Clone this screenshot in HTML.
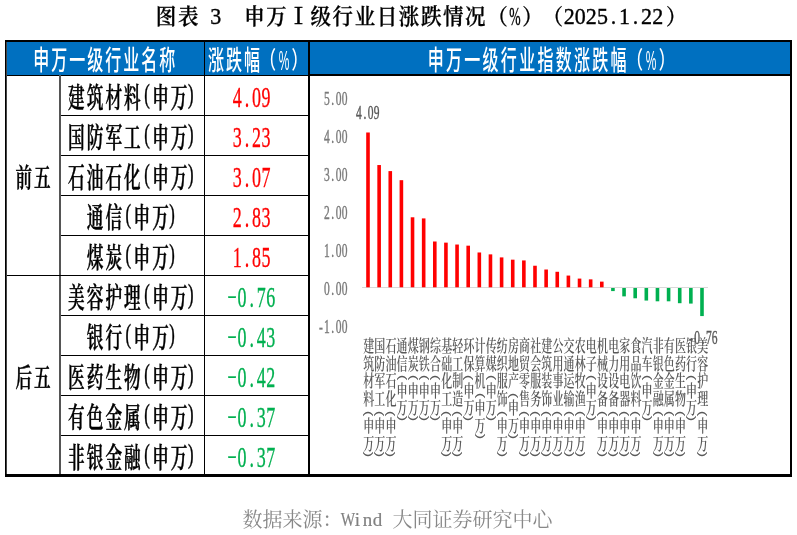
<!DOCTYPE html>
<html><head><meta charset="utf-8">
<style>
html,body{margin:0;padding:0;background:#fff;}
body{width:797px;height:535px;position:relative;overflow:hidden;}
i{font-style:normal;display:inline-block;text-align:center;white-space:nowrap;vertical-align:top;}
b{font-weight:normal;}
.abs{position:absolute;}
#title{position:absolute;top:1.5px;white-space:nowrap;height:30px;line-height:30px;
 font-family:"Liberation Serif","Noto Serif CJK SC",serif;font-weight:600;font-size:20.5px;color:#000;-webkit-text-stroke:0.25px #000;transform:scaleY(1.06);transform-origin:50% 50%;}
#title .h{position:relative;top:-0.3px;font-family:"Liberation Serif",serif;font-weight:400;font-size:22px;-webkit-text-stroke:0.35px #000;}
#title .pc{display:inline-block;transform:scaleX(0.8);}
#src{position:absolute;top:505px;white-space:nowrap;height:30px;line-height:30px;
 font-family:"Liberation Serif","Noto Serif CJK SC",serif;font-size:20px;color:#888;}
#src .h{font-family:"Liberation Serif",serif;font-size:19px;color:#808080;-webkit-text-stroke:0.2px #808080;}
.hdr{position:absolute;top:42px;height:32px;background:#0070c0;}
.ht{position:absolute;top:48px;height:32px;line-height:32px;color:#fff;white-space:nowrap;
 font-family:"Liberation Sans","Noto Sans CJK SC",sans-serif;font-weight:500;font-size:16px;transform:scaleY(1.69);transform-origin:50% 60%;}
.ht .h{font-family:"Liberation Sans",sans-serif;font-size:15px;}
.hl{position:absolute;height:1px;background:#000;}
.nm{position:absolute;height:40px;line-height:40px;white-space:nowrap;
 font-family:"Liberation Serif","Noto Serif CJK SC",serif;font-weight:600;font-size:16.6px;color:#000;transform:scaleY(1.68);-webkit-text-stroke:0.3px #000;transform-origin:50% 50%;}
.nm .h{font-family:"Liberation Serif",serif;font-weight:400;}
.vl{position:absolute;height:40px;line-height:40px;white-space:nowrap;
 font-family:"Liberation Serif",serif;font-size:18px;transform:scaleY(1.6);transform-origin:50% 56%;-webkit-text-stroke:0.2px currentColor;}
.side{position:absolute;left:7px;width:52px;text-align:center;white-space:nowrap;
 font-family:"Liberation Serif","Noto Serif CJK SC",serif;font-weight:600;font-size:16.6px;line-height:40px;height:40px;transform:scaleY(1.6);-webkit-text-stroke:0.3px #000;letter-spacing:2px;text-indent:2px;}
.ax{position:absolute;height:16px;line-height:16px;white-space:nowrap;
 font-family:"Liberation Serif",serif;font-size:11.5px;color:#7a7a7a;-webkit-text-stroke:0.25px #7a7a7a;transform:scaleY(1.6);transform-origin:100% 50%;}
.dl{position:absolute;height:16px;line-height:16px;white-space:nowrap;font-family:"Liberation Serif",serif;font-size:11.5px;color:#595959;-webkit-text-stroke:0.25px #595959;
 transform:scaleY(1.6);}
.c,.p{position:absolute;width:11px;height:11px;line-height:11px;font-size:11px;text-align:center;color:#595959;
 font-family:"Liberation Serif","Noto Serif CJK SC",serif;font-weight:600;transform-origin:50% 0;transform:scaleY(1.5);}
.p{font-family:"Liberation Sans",sans-serif;font-weight:400;font-size:11.5px;transform:scaleY(1.45) rotate(90deg);transform-origin:50% 50%;}
</style></head><body>
<div id="title" style="left:155px"><i class="f" style="width:22.1px">图</i><i class="f" style="width:22.1px">表</i><i class="h" style="width:11.05px">&nbsp;</i><i class="h" style="width:11.05px">3</i><i class="f" style="width:22.1px">&#12288;</i><i class="f" style="width:22.1px">申</i><i class="f" style="width:22.1px">万</i><i class="f" style="width:22.1px">Ⅰ</i><i class="f" style="width:22.1px">级</i><i class="f" style="width:22.1px">行</i><i class="f" style="width:22.1px">业</i><i class="f" style="width:22.1px">日</i><i class="f" style="width:22.1px">涨</i><i class="f" style="width:22.1px">跌</i><i class="f" style="width:22.1px">情</i><i class="f" style="width:22.1px">况</i><i class="f" style="width:22.1px">（</i><i class="h" style="width:11.05px;display:inline-flex;justify-content:center"><i style="transform:translateX(0.8px) scaleX(0.62) scaleY(1.05)">%</i></i><i class="f" style="width:22.1px;display:inline-flex;justify-content:center"><i style="position:relative;left:2px">）</i></i><i class="f" style="width:22.1px">（</i><i class="h" style="width:11.05px">2</i><i class="h" style="width:11.05px">0</i><i class="h" style="width:11.05px">2</i><i class="h" style="width:11.05px">5</i><i class="h" style="width:11.05px">.</i><i class="h" style="width:11.05px">1</i><i class="h" style="width:11.05px">.</i><i class="h" style="width:11.05px">2</i><i class="h" style="width:11.05px">2</i><i class="f" style="width:22.1px;display:inline-flex;justify-content:center"><i style="position:relative;left:2px">）</i></i></div>

<!-- table frame -->
<div class="hdr" style="left:7px;width:197px;height:33px"></div>
<div class="hdr" style="left:205px;width:103px;height:33px"></div>
<div class="hdr" style="left:310px;width:480px"></div>
<div class="abs" style="left:5px;top:40px;width:787px;height:2px;background:#000"></div>
<div class="abs" style="left:5px;top:40px;width:1px;height:437px;background:#000"></div>
<div class="abs" style="left:6px;top:42px;width:1px;height:432px;background:#444"></div>
<div class="abs" style="left:790px;top:40px;width:2px;height:437px;background:#000"></div>
<div class="abs" style="left:5px;top:474px;width:787px;height:3px;background:#000"></div>
<div class="abs" style="left:7px;top:75px;width:301px;height:1px;background:#000"></div>
<div class="abs" style="left:310px;top:74px;width:480px;height:2px;background:#000"></div>
<div class="abs" style="left:59px;top:75px;width:2px;height:399px;background:#555"></div>
<div class="abs" style="left:204px;top:42px;width:1px;height:432px;background:#000"></div>
<div class="abs" style="left:308px;top:42px;width:2px;height:432px;background:#000"></div>
<div class="hl" style="top:115px;left:61px;width:247px"></div>
<div class="hl" style="top:155px;left:61px;width:247px"></div>
<div class="hl" style="top:195px;left:61px;width:247px"></div>
<div class="hl" style="top:235px;left:61px;width:247px"></div>
<div class="hl" style="top:315px;left:61px;width:247px"></div>
<div class="hl" style="top:355px;left:61px;width:247px"></div>
<div class="hl" style="top:395px;left:61px;width:247px"></div>
<div class="hl" style="top:435px;left:61px;width:247px"></div>
<div class="hl" style="top:275px;left:7px;width:301px"></div>

<div class="ht" style="left:32.3px"><i class="f" style="width:18px">申</i><i class="f" style="width:18px">万</i><i class="f" style="width:18px">一</i><i class="f" style="width:18px">级</i><i class="f" style="width:18px">行</i><i class="f" style="width:18px">业</i><i class="f" style="width:18px">名</i><i class="f" style="width:18px">称</i></div>
<div class="ht" style="left:207.0px"><i class="f" style="width:18px">涨</i><i class="f" style="width:18px">跌</i><i class="f" style="width:18px">幅</i><i class="f" style="width:18px;display:inline-flex;justify-content:center"><i style="position:relative;left:-2px;top:-0.9px;transform:scaleY(0.88)">（</i></i><i class="h" style="width:9.0px;display:inline-flex;justify-content:center"><i style="transform:translateY(-0.2px) scaleX(0.66) scaleY(0.89);font-size:18px">%</i></i><i class="f" style="width:18px;display:inline-flex;justify-content:center"><i style="position:relative;left:2.5px;top:-0.9px;transform:scaleY(0.88)">）</i></i></div>
<div class="ht" style="left:426.5px"><i class="f" style="width:18.3px">申</i><i class="f" style="width:18.3px">万</i><i class="f" style="width:18.3px">一</i><i class="f" style="width:18.3px">级</i><i class="f" style="width:18.3px">行</i><i class="f" style="width:18.3px">业</i><i class="f" style="width:18.3px">指</i><i class="f" style="width:18.3px">数</i><i class="f" style="width:18.3px">涨</i><i class="f" style="width:18.3px">跌</i><i class="f" style="width:18.3px">幅</i><i class="f" style="width:18.3px;display:inline-flex;justify-content:center"><i style="position:relative;left:-2px;top:-0.9px;transform:scaleY(0.88)">（</i></i><i class="h" style="width:9.15px;display:inline-flex;justify-content:center"><i style="transform:translateY(-0.2px) scaleX(0.66) scaleY(0.89);font-size:18px">%</i></i><i class="f" style="width:18.3px;display:inline-flex;justify-content:center"><i style="position:relative;left:2.5px;top:-0.9px;transform:scaleY(0.88)">）</i></i></div>

<div class="side" style="top:158.5px">前五</div>
<div class="side" style="top:358.5px">后五</div>
<div class="nm" style="top:80.2px;left:67.0px"><i class="f" style="width:18.7px">建</i><i class="f" style="width:18.7px">筑</i><i class="f" style="width:18.7px">材</i><i class="f" style="width:18.7px">料</i><i class="h" style="width:9.35px;display:inline-flex;justify-content:center"><i style="position:relative;top:-3.1px;left:0.5px">(</i></i><i class="f" style="width:18.7px">申</i><i class="f" style="width:18.7px">万</i><i class="h" style="width:9.35px;display:inline-flex;justify-content:center"><i style="position:relative;top:-3.1px;left:-2.5px">)</i></i></div>
<div class="vl" style="top:78.5px;left:232.5px;color:#ff0000"><i class="h" style="width:9.6px">4</i><i class="h" style="width:9.6px">.</i><i class="h" style="width:9.6px">0</i><i class="h" style="width:9.6px">9</i></div>
<div class="nm" style="top:120.2px;left:67.0px"><i class="f" style="width:18.7px">国</i><i class="f" style="width:18.7px">防</i><i class="f" style="width:18.7px">军</i><i class="f" style="width:18.7px">工</i><i class="h" style="width:9.35px;display:inline-flex;justify-content:center"><i style="position:relative;top:-3.1px;left:0.5px">(</i></i><i class="f" style="width:18.7px">申</i><i class="f" style="width:18.7px">万</i><i class="h" style="width:9.35px;display:inline-flex;justify-content:center"><i style="position:relative;top:-3.1px;left:-2.5px">)</i></i></div>
<div class="vl" style="top:118.5px;left:232.5px;color:#ff0000"><i class="h" style="width:9.6px">3</i><i class="h" style="width:9.6px">.</i><i class="h" style="width:9.6px">2</i><i class="h" style="width:9.6px">3</i></div>
<div class="nm" style="top:160.2px;left:67.0px"><i class="f" style="width:18.7px">石</i><i class="f" style="width:18.7px">油</i><i class="f" style="width:18.7px">石</i><i class="f" style="width:18.7px">化</i><i class="h" style="width:9.35px;display:inline-flex;justify-content:center"><i style="position:relative;top:-3.1px;left:0.5px">(</i></i><i class="f" style="width:18.7px">申</i><i class="f" style="width:18.7px">万</i><i class="h" style="width:9.35px;display:inline-flex;justify-content:center"><i style="position:relative;top:-3.1px;left:-2.5px">)</i></i></div>
<div class="vl" style="top:158.5px;left:232.5px;color:#ff0000"><i class="h" style="width:9.6px">3</i><i class="h" style="width:9.6px">.</i><i class="h" style="width:9.6px">0</i><i class="h" style="width:9.6px">7</i></div>
<div class="nm" style="top:200.2px;left:85.7px"><i class="f" style="width:18.7px">通</i><i class="f" style="width:18.7px">信</i><i class="h" style="width:9.35px;display:inline-flex;justify-content:center"><i style="position:relative;top:-3.1px;left:0.5px">(</i></i><i class="f" style="width:18.7px">申</i><i class="f" style="width:18.7px">万</i><i class="h" style="width:9.35px;display:inline-flex;justify-content:center"><i style="position:relative;top:-3.1px;left:-2.5px">)</i></i></div>
<div class="vl" style="top:198.5px;left:232.5px;color:#ff0000"><i class="h" style="width:9.6px">2</i><i class="h" style="width:9.6px">.</i><i class="h" style="width:9.6px">8</i><i class="h" style="width:9.6px">3</i></div>
<div class="nm" style="top:240.2px;left:85.7px"><i class="f" style="width:18.7px">煤</i><i class="f" style="width:18.7px">炭</i><i class="h" style="width:9.35px;display:inline-flex;justify-content:center"><i style="position:relative;top:-3.1px;left:0.5px">(</i></i><i class="f" style="width:18.7px">申</i><i class="f" style="width:18.7px">万</i><i class="h" style="width:9.35px;display:inline-flex;justify-content:center"><i style="position:relative;top:-3.1px;left:-2.5px">)</i></i></div>
<div class="vl" style="top:238.5px;left:232.5px;color:#ff0000"><i class="h" style="width:9.6px">1</i><i class="h" style="width:9.6px">.</i><i class="h" style="width:9.6px">8</i><i class="h" style="width:9.6px">5</i></div>
<div class="nm" style="top:280.2px;left:67.0px"><i class="f" style="width:18.7px">美</i><i class="f" style="width:18.7px">容</i><i class="f" style="width:18.7px">护</i><i class="f" style="width:18.7px">理</i><i class="h" style="width:9.35px;display:inline-flex;justify-content:center"><i style="position:relative;top:-3.1px;left:0.5px">(</i></i><i class="f" style="width:18.7px">申</i><i class="f" style="width:18.7px">万</i><i class="h" style="width:9.35px;display:inline-flex;justify-content:center"><i style="position:relative;top:-3.1px;left:-2.5px">)</i></i></div>
<div class="vl" style="top:278.5px;left:227.7px;color:#00b050"><i class="h" style="width:9.6px;display:inline-flex;justify-content:center"><i style="transform:translateY(-1.3px) scaleX(1.6) scaleY(0.7)">-</i></i><i class="h" style="width:9.6px">0</i><i class="h" style="width:9.6px">.</i><i class="h" style="width:9.6px">7</i><i class="h" style="width:9.6px">6</i></div>
<div class="nm" style="top:320.2px;left:85.7px"><i class="f" style="width:18.7px">银</i><i class="f" style="width:18.7px">行</i><i class="h" style="width:9.35px;display:inline-flex;justify-content:center"><i style="position:relative;top:-3.1px;left:0.5px">(</i></i><i class="f" style="width:18.7px">申</i><i class="f" style="width:18.7px">万</i><i class="h" style="width:9.35px;display:inline-flex;justify-content:center"><i style="position:relative;top:-3.1px;left:-2.5px">)</i></i></div>
<div class="vl" style="top:318.5px;left:227.7px;color:#00b050"><i class="h" style="width:9.6px;display:inline-flex;justify-content:center"><i style="transform:translateY(-1.3px) scaleX(1.6) scaleY(0.7)">-</i></i><i class="h" style="width:9.6px">0</i><i class="h" style="width:9.6px">.</i><i class="h" style="width:9.6px">4</i><i class="h" style="width:9.6px">3</i></div>
<div class="nm" style="top:360.2px;left:67.0px"><i class="f" style="width:18.7px">医</i><i class="f" style="width:18.7px">药</i><i class="f" style="width:18.7px">生</i><i class="f" style="width:18.7px">物</i><i class="h" style="width:9.35px;display:inline-flex;justify-content:center"><i style="position:relative;top:-3.1px;left:0.5px">(</i></i><i class="f" style="width:18.7px">申</i><i class="f" style="width:18.7px">万</i><i class="h" style="width:9.35px;display:inline-flex;justify-content:center"><i style="position:relative;top:-3.1px;left:-2.5px">)</i></i></div>
<div class="vl" style="top:358.5px;left:227.7px;color:#00b050"><i class="h" style="width:9.6px;display:inline-flex;justify-content:center"><i style="transform:translateY(-1.3px) scaleX(1.6) scaleY(0.7)">-</i></i><i class="h" style="width:9.6px">0</i><i class="h" style="width:9.6px">.</i><i class="h" style="width:9.6px">4</i><i class="h" style="width:9.6px">2</i></div>
<div class="nm" style="top:400.2px;left:67.0px"><i class="f" style="width:18.7px">有</i><i class="f" style="width:18.7px">色</i><i class="f" style="width:18.7px">金</i><i class="f" style="width:18.7px">属</i><i class="h" style="width:9.35px;display:inline-flex;justify-content:center"><i style="position:relative;top:-3.1px;left:0.5px">(</i></i><i class="f" style="width:18.7px">申</i><i class="f" style="width:18.7px">万</i><i class="h" style="width:9.35px;display:inline-flex;justify-content:center"><i style="position:relative;top:-3.1px;left:-2.5px">)</i></i></div>
<div class="vl" style="top:398.5px;left:227.7px;color:#00b050"><i class="h" style="width:9.6px;display:inline-flex;justify-content:center"><i style="transform:translateY(-1.3px) scaleX(1.6) scaleY(0.7)">-</i></i><i class="h" style="width:9.6px">0</i><i class="h" style="width:9.6px">.</i><i class="h" style="width:9.6px">3</i><i class="h" style="width:9.6px">7</i></div>
<div class="nm" style="top:440.2px;left:67.0px"><i class="f" style="width:18.7px">非</i><i class="f" style="width:18.7px">银</i><i class="f" style="width:18.7px">金</i><i class="f" style="width:18.7px">融</i><i class="h" style="width:9.35px;display:inline-flex;justify-content:center"><i style="position:relative;top:-3.1px;left:0.5px">(</i></i><i class="f" style="width:18.7px">申</i><i class="f" style="width:18.7px">万</i><i class="h" style="width:9.35px;display:inline-flex;justify-content:center"><i style="position:relative;top:-3.1px;left:-2.5px">)</i></i></div>
<div class="vl" style="top:438.5px;left:227.7px;color:#00b050"><i class="h" style="width:9.6px;display:inline-flex;justify-content:center"><i style="transform:translateY(-1.3px) scaleX(1.6) scaleY(0.7)">-</i></i><i class="h" style="width:9.6px">0</i><i class="h" style="width:9.6px">.</i><i class="h" style="width:9.6px">3</i><i class="h" style="width:9.6px">7</i></div>

<svg class="abs" style="left:0;top:0" width="797" height="535" viewBox="0 0 797 535">
<line x1="362" y1="287.5" x2="708" y2="287.5" stroke="#d9d9d9" stroke-width="1"/>
<rect x="366.20" y="132.49" width="3.6" height="154.81" fill="#ff0000"/>
<rect x="377.33" y="165.04" width="3.6" height="122.26" fill="#ff0000"/>
<rect x="388.47" y="171.10" width="3.6" height="116.20" fill="#ff0000"/>
<rect x="399.60" y="180.18" width="3.6" height="107.12" fill="#ff0000"/>
<rect x="410.73" y="217.28" width="3.6" height="70.02" fill="#ff0000"/>
<rect x="421.87" y="218.41" width="3.6" height="68.89" fill="#ff0000"/>
<rect x="433.00" y="241.50" width="3.6" height="45.80" fill="#ff0000"/>
<rect x="444.13" y="242.64" width="3.6" height="44.66" fill="#ff0000"/>
<rect x="455.26" y="244.53" width="3.6" height="42.77" fill="#ff0000"/>
<rect x="466.40" y="245.67" width="3.6" height="41.63" fill="#ff0000"/>
<rect x="477.53" y="252.48" width="3.6" height="34.82" fill="#ff0000"/>
<rect x="488.66" y="254.37" width="3.6" height="32.93" fill="#ff0000"/>
<rect x="499.80" y="257.40" width="3.6" height="29.90" fill="#ff0000"/>
<rect x="510.93" y="259.67" width="3.6" height="27.63" fill="#ff0000"/>
<rect x="522.06" y="260.43" width="3.6" height="26.87" fill="#ff0000"/>
<rect x="533.19" y="265.73" width="3.6" height="21.57" fill="#ff0000"/>
<rect x="544.33" y="269.51" width="3.6" height="17.79" fill="#ff0000"/>
<rect x="555.46" y="271.78" width="3.6" height="15.52" fill="#ff0000"/>
<rect x="566.59" y="275.57" width="3.6" height="11.73" fill="#ff0000"/>
<rect x="577.73" y="278.59" width="3.6" height="8.71" fill="#ff0000"/>
<rect x="588.86" y="279.35" width="3.6" height="7.95" fill="#ff0000"/>
<rect x="599.99" y="281.62" width="3.6" height="5.68" fill="#ff0000"/>
<rect x="611.13" y="288.00" width="3.6" height="3.09" fill="#00b050"/>
<rect x="622.26" y="288.00" width="3.6" height="8.38" fill="#00b050"/>
<rect x="633.39" y="288.00" width="3.6" height="10.28" fill="#00b050"/>
<rect x="644.52" y="288.00" width="3.6" height="12.55" fill="#00b050"/>
<rect x="655.66" y="288.00" width="3.6" height="13.30" fill="#00b050"/>
<rect x="666.79" y="288.00" width="3.6" height="13.30" fill="#00b050"/>
<rect x="677.92" y="288.00" width="3.6" height="15.20" fill="#00b050"/>
<rect x="689.06" y="288.00" width="3.6" height="15.58" fill="#00b050"/>
<rect x="700.19" y="288.00" width="3.6" height="28.07" fill="#00b050"/>
</svg>
<div class="ax" style="left:323.9px;top:91.0px"><i class="h" style="width:5.9px">5</i><i class="h" style="width:5.9px">.</i><i class="h" style="width:5.9px">0</i><i class="h" style="width:5.9px">0</i></div>
<div class="ax" style="left:323.9px;top:129.1px"><i class="h" style="width:5.9px">4</i><i class="h" style="width:5.9px">.</i><i class="h" style="width:5.9px">0</i><i class="h" style="width:5.9px">0</i></div>
<div class="ax" style="left:323.9px;top:167.1px"><i class="h" style="width:5.9px">3</i><i class="h" style="width:5.9px">.</i><i class="h" style="width:5.9px">0</i><i class="h" style="width:5.9px">0</i></div>
<div class="ax" style="left:323.9px;top:205.1px"><i class="h" style="width:5.9px">2</i><i class="h" style="width:5.9px">.</i><i class="h" style="width:5.9px">0</i><i class="h" style="width:5.9px">0</i></div>
<div class="ax" style="left:323.9px;top:243.2px"><i class="h" style="width:5.9px">1</i><i class="h" style="width:5.9px">.</i><i class="h" style="width:5.9px">0</i><i class="h" style="width:5.9px">0</i></div>
<div class="ax" style="left:323.9px;top:281.2px"><i class="h" style="width:5.9px">0</i><i class="h" style="width:5.9px">.</i><i class="h" style="width:5.9px">0</i><i class="h" style="width:5.9px">0</i></div>
<div class="ax" style="left:318.0px;top:319.2px"><i class="h" style="width:5.9px">-</i><i class="h" style="width:5.9px">1</i><i class="h" style="width:5.9px">.</i><i class="h" style="width:5.9px">0</i><i class="h" style="width:5.9px">0</i></div>
<div class="dl" style="left:356px;top:104.5px"><i class="h" style="width:5.9px">4</i><i class="h" style="width:5.9px">.</i><i class="h" style="width:5.9px">0</i><i class="h" style="width:5.9px">9</i></div>
<div class="dl" style="left:688.2px;top:330px"><i class="h" style="width:5.9px">-</i><i class="h" style="width:5.9px">0</i><i class="h" style="width:5.9px">.</i><i class="h" style="width:5.9px">7</i><i class="h" style="width:5.9px">6</i></div>
<b class="c" style="left:363.20px;top:337.80px">建</b>
<b class="c" style="left:363.20px;top:355.55px">筑</b>
<b class="c" style="left:363.20px;top:373.30px">材</b>
<b class="c" style="left:363.20px;top:391.05px">料</b>
<b class="p" style="left:363.20px;top:407.70px">(</b>
<b class="c" style="left:363.20px;top:418.00px">申</b>
<b class="c" style="left:363.20px;top:435.75px">万</b>
<b class="p" style="left:363.20px;top:448.85px">)</b>
<b class="c" style="left:374.33px;top:337.80px">国</b>
<b class="c" style="left:374.33px;top:355.55px">防</b>
<b class="c" style="left:374.33px;top:373.30px">军</b>
<b class="c" style="left:374.33px;top:391.05px">工</b>
<b class="p" style="left:374.33px;top:407.70px">(</b>
<b class="c" style="left:374.33px;top:418.00px">申</b>
<b class="c" style="left:374.33px;top:435.75px">万</b>
<b class="p" style="left:374.33px;top:448.85px">)</b>
<b class="c" style="left:385.47px;top:337.80px">石</b>
<b class="c" style="left:385.47px;top:355.55px">油</b>
<b class="c" style="left:385.47px;top:373.30px">石</b>
<b class="c" style="left:385.47px;top:391.05px">化</b>
<b class="p" style="left:385.47px;top:407.70px">(</b>
<b class="c" style="left:385.47px;top:418.00px">申</b>
<b class="c" style="left:385.47px;top:435.75px">万</b>
<b class="p" style="left:385.47px;top:448.85px">)</b>
<b class="c" style="left:396.60px;top:337.80px">通</b>
<b class="c" style="left:396.60px;top:355.55px">信</b>
<b class="p" style="left:396.60px;top:372.20px">(</b>
<b class="c" style="left:396.60px;top:382.50px">申</b>
<b class="c" style="left:396.60px;top:400.25px">万</b>
<b class="p" style="left:396.60px;top:413.35px">)</b>
<b class="c" style="left:407.73px;top:337.80px">煤</b>
<b class="c" style="left:407.73px;top:355.55px">炭</b>
<b class="p" style="left:407.73px;top:372.20px">(</b>
<b class="c" style="left:407.73px;top:382.50px">申</b>
<b class="c" style="left:407.73px;top:400.25px">万</b>
<b class="p" style="left:407.73px;top:413.35px">)</b>
<b class="c" style="left:418.87px;top:337.80px">钢</b>
<b class="c" style="left:418.87px;top:355.55px">铁</b>
<b class="p" style="left:418.87px;top:372.20px">(</b>
<b class="c" style="left:418.87px;top:382.50px">申</b>
<b class="c" style="left:418.87px;top:400.25px">万</b>
<b class="p" style="left:418.87px;top:413.35px">)</b>
<b class="c" style="left:430.00px;top:337.80px">综</b>
<b class="c" style="left:430.00px;top:355.55px">合</b>
<b class="p" style="left:430.00px;top:372.20px">(</b>
<b class="c" style="left:430.00px;top:382.50px">申</b>
<b class="c" style="left:430.00px;top:400.25px">万</b>
<b class="p" style="left:430.00px;top:413.35px">)</b>
<b class="c" style="left:441.13px;top:337.80px">基</b>
<b class="c" style="left:441.13px;top:355.55px">础</b>
<b class="c" style="left:441.13px;top:373.30px">化</b>
<b class="c" style="left:441.13px;top:391.05px">工</b>
<b class="p" style="left:441.13px;top:407.70px">(</b>
<b class="c" style="left:441.13px;top:418.00px">申</b>
<b class="c" style="left:441.13px;top:435.75px">万</b>
<b class="p" style="left:441.13px;top:448.85px">)</b>
<b class="c" style="left:452.26px;top:337.80px">轻</b>
<b class="c" style="left:452.26px;top:355.55px">工</b>
<b class="c" style="left:452.26px;top:373.30px">制</b>
<b class="c" style="left:452.26px;top:391.05px">造</b>
<b class="p" style="left:452.26px;top:407.70px">(</b>
<b class="c" style="left:452.26px;top:418.00px">申</b>
<b class="c" style="left:452.26px;top:435.75px">万</b>
<b class="p" style="left:452.26px;top:448.85px">)</b>
<b class="c" style="left:463.40px;top:337.80px">环</b>
<b class="c" style="left:463.40px;top:355.55px">保</b>
<b class="p" style="left:463.40px;top:372.20px">(</b>
<b class="c" style="left:463.40px;top:382.50px">申</b>
<b class="c" style="left:463.40px;top:400.25px">万</b>
<b class="p" style="left:463.40px;top:413.35px">)</b>
<b class="c" style="left:474.53px;top:337.80px">计</b>
<b class="c" style="left:474.53px;top:355.55px">算</b>
<b class="c" style="left:474.53px;top:373.30px">机</b>
<b class="p" style="left:474.53px;top:389.95px">(</b>
<b class="c" style="left:474.53px;top:400.25px">申</b>
<b class="c" style="left:474.53px;top:418.00px">万</b>
<b class="p" style="left:474.53px;top:431.10px">)</b>
<b class="c" style="left:485.66px;top:337.80px">传</b>
<b class="c" style="left:485.66px;top:355.55px">媒</b>
<b class="p" style="left:485.66px;top:372.20px">(</b>
<b class="c" style="left:485.66px;top:382.50px">申</b>
<b class="c" style="left:485.66px;top:400.25px">万</b>
<b class="p" style="left:485.66px;top:413.35px">)</b>
<b class="c" style="left:496.80px;top:337.80px">纺</b>
<b class="c" style="left:496.80px;top:355.55px">织</b>
<b class="c" style="left:496.80px;top:373.30px">服</b>
<b class="c" style="left:496.80px;top:391.05px">饰</b>
<b class="p" style="left:496.80px;top:407.70px">(</b>
<b class="c" style="left:496.80px;top:418.00px">申</b>
<b class="c" style="left:496.80px;top:435.75px">万</b>
<b class="p" style="left:496.80px;top:448.85px">)</b>
<b class="c" style="left:507.93px;top:337.80px">房</b>
<b class="c" style="left:507.93px;top:355.55px">地</b>
<b class="c" style="left:507.93px;top:373.30px">产</b>
<b class="p" style="left:507.93px;top:389.95px">(</b>
<b class="c" style="left:507.93px;top:400.25px">申</b>
<b class="c" style="left:507.93px;top:418.00px">万</b>
<b class="p" style="left:507.93px;top:431.10px">)</b>
<b class="c" style="left:519.06px;top:337.80px">商</b>
<b class="c" style="left:519.06px;top:355.55px">贸</b>
<b class="c" style="left:519.06px;top:373.30px">零</b>
<b class="c" style="left:519.06px;top:391.05px">售</b>
<b class="p" style="left:519.06px;top:407.70px">(</b>
<b class="c" style="left:519.06px;top:418.00px">申</b>
<b class="c" style="left:519.06px;top:435.75px">万</b>
<b class="p" style="left:519.06px;top:448.85px">)</b>
<b class="c" style="left:530.19px;top:337.80px">社</b>
<b class="c" style="left:530.19px;top:355.55px">会</b>
<b class="c" style="left:530.19px;top:373.30px">服</b>
<b class="c" style="left:530.19px;top:391.05px">务</b>
<b class="p" style="left:530.19px;top:407.70px">(</b>
<b class="c" style="left:530.19px;top:418.00px">申</b>
<b class="c" style="left:530.19px;top:435.75px">万</b>
<b class="p" style="left:530.19px;top:448.85px">)</b>
<b class="c" style="left:541.33px;top:337.80px">建</b>
<b class="c" style="left:541.33px;top:355.55px">筑</b>
<b class="c" style="left:541.33px;top:373.30px">装</b>
<b class="c" style="left:541.33px;top:391.05px">饰</b>
<b class="p" style="left:541.33px;top:407.70px">(</b>
<b class="c" style="left:541.33px;top:418.00px">申</b>
<b class="c" style="left:541.33px;top:435.75px">万</b>
<b class="p" style="left:541.33px;top:448.85px">)</b>
<b class="c" style="left:552.46px;top:337.80px">公</b>
<b class="c" style="left:552.46px;top:355.55px">用</b>
<b class="c" style="left:552.46px;top:373.30px">事</b>
<b class="c" style="left:552.46px;top:391.05px">业</b>
<b class="p" style="left:552.46px;top:407.70px">(</b>
<b class="c" style="left:552.46px;top:418.00px">申</b>
<b class="c" style="left:552.46px;top:435.75px">万</b>
<b class="p" style="left:552.46px;top:448.85px">)</b>
<b class="c" style="left:563.59px;top:337.80px">交</b>
<b class="c" style="left:563.59px;top:355.55px">通</b>
<b class="c" style="left:563.59px;top:373.30px">运</b>
<b class="c" style="left:563.59px;top:391.05px">输</b>
<b class="p" style="left:563.59px;top:407.70px">(</b>
<b class="c" style="left:563.59px;top:418.00px">申</b>
<b class="c" style="left:563.59px;top:435.75px">万</b>
<b class="p" style="left:563.59px;top:448.85px">)</b>
<b class="c" style="left:574.73px;top:337.80px">农</b>
<b class="c" style="left:574.73px;top:355.55px">林</b>
<b class="c" style="left:574.73px;top:373.30px">牧</b>
<b class="c" style="left:574.73px;top:391.05px">渔</b>
<b class="p" style="left:574.73px;top:407.70px">(</b>
<b class="c" style="left:574.73px;top:418.00px">申</b>
<b class="c" style="left:574.73px;top:435.75px">万</b>
<b class="p" style="left:574.73px;top:448.85px">)</b>
<b class="c" style="left:585.86px;top:337.80px">电</b>
<b class="c" style="left:585.86px;top:355.55px">子</b>
<b class="p" style="left:585.86px;top:372.20px">(</b>
<b class="c" style="left:585.86px;top:382.50px">申</b>
<b class="c" style="left:585.86px;top:400.25px">万</b>
<b class="p" style="left:585.86px;top:413.35px">)</b>
<b class="c" style="left:596.99px;top:337.80px">机</b>
<b class="c" style="left:596.99px;top:355.55px">械</b>
<b class="c" style="left:596.99px;top:373.30px">设</b>
<b class="c" style="left:596.99px;top:391.05px">备</b>
<b class="p" style="left:596.99px;top:407.70px">(</b>
<b class="c" style="left:596.99px;top:418.00px">申</b>
<b class="c" style="left:596.99px;top:435.75px">万</b>
<b class="p" style="left:596.99px;top:448.85px">)</b>
<b class="c" style="left:608.13px;top:337.80px">电</b>
<b class="c" style="left:608.13px;top:355.55px">力</b>
<b class="c" style="left:608.13px;top:373.30px">设</b>
<b class="c" style="left:608.13px;top:391.05px">备</b>
<b class="p" style="left:608.13px;top:407.70px">(</b>
<b class="c" style="left:608.13px;top:418.00px">申</b>
<b class="c" style="left:608.13px;top:435.75px">万</b>
<b class="p" style="left:608.13px;top:448.85px">)</b>
<b class="c" style="left:619.26px;top:337.80px">家</b>
<b class="c" style="left:619.26px;top:355.55px">用</b>
<b class="c" style="left:619.26px;top:373.30px">电</b>
<b class="c" style="left:619.26px;top:391.05px">器</b>
<b class="p" style="left:619.26px;top:407.70px">(</b>
<b class="c" style="left:619.26px;top:418.00px">申</b>
<b class="c" style="left:619.26px;top:435.75px">万</b>
<b class="p" style="left:619.26px;top:448.85px">)</b>
<b class="c" style="left:630.39px;top:337.80px">食</b>
<b class="c" style="left:630.39px;top:355.55px">品</b>
<b class="c" style="left:630.39px;top:373.30px">饮</b>
<b class="c" style="left:630.39px;top:391.05px">料</b>
<b class="p" style="left:630.39px;top:407.70px">(</b>
<b class="c" style="left:630.39px;top:418.00px">申</b>
<b class="c" style="left:630.39px;top:435.75px">万</b>
<b class="p" style="left:630.39px;top:448.85px">)</b>
<b class="c" style="left:641.52px;top:337.80px">汽</b>
<b class="c" style="left:641.52px;top:355.55px">车</b>
<b class="p" style="left:641.52px;top:372.20px">(</b>
<b class="c" style="left:641.52px;top:382.50px">申</b>
<b class="c" style="left:641.52px;top:400.25px">万</b>
<b class="p" style="left:641.52px;top:413.35px">)</b>
<b class="c" style="left:652.66px;top:337.80px">非</b>
<b class="c" style="left:652.66px;top:355.55px">银</b>
<b class="c" style="left:652.66px;top:373.30px">金</b>
<b class="c" style="left:652.66px;top:391.05px">融</b>
<b class="p" style="left:652.66px;top:407.70px">(</b>
<b class="c" style="left:652.66px;top:418.00px">申</b>
<b class="c" style="left:652.66px;top:435.75px">万</b>
<b class="p" style="left:652.66px;top:448.85px">)</b>
<b class="c" style="left:663.79px;top:337.80px">有</b>
<b class="c" style="left:663.79px;top:355.55px">色</b>
<b class="c" style="left:663.79px;top:373.30px">金</b>
<b class="c" style="left:663.79px;top:391.05px">属</b>
<b class="p" style="left:663.79px;top:407.70px">(</b>
<b class="c" style="left:663.79px;top:418.00px">申</b>
<b class="c" style="left:663.79px;top:435.75px">万</b>
<b class="p" style="left:663.79px;top:448.85px">)</b>
<b class="c" style="left:674.92px;top:337.80px">医</b>
<b class="c" style="left:674.92px;top:355.55px">药</b>
<b class="c" style="left:674.92px;top:373.30px">生</b>
<b class="c" style="left:674.92px;top:391.05px">物</b>
<b class="p" style="left:674.92px;top:407.70px">(</b>
<b class="c" style="left:674.92px;top:418.00px">申</b>
<b class="c" style="left:674.92px;top:435.75px">万</b>
<b class="p" style="left:674.92px;top:448.85px">)</b>
<b class="c" style="left:686.06px;top:337.80px">银</b>
<b class="c" style="left:686.06px;top:355.55px">行</b>
<b class="p" style="left:686.06px;top:372.20px">(</b>
<b class="c" style="left:686.06px;top:382.50px">申</b>
<b class="c" style="left:686.06px;top:400.25px">万</b>
<b class="p" style="left:686.06px;top:413.35px">)</b>
<b class="c" style="left:697.19px;top:337.80px">美</b>
<b class="c" style="left:697.19px;top:355.55px">容</b>
<b class="c" style="left:697.19px;top:373.30px">护</b>
<b class="c" style="left:697.19px;top:391.05px">理</b>
<b class="p" style="left:697.19px;top:407.70px">(</b>
<b class="c" style="left:697.19px;top:418.00px">申</b>
<b class="c" style="left:697.19px;top:435.75px">万</b>
<b class="p" style="left:697.19px;top:448.85px">)</b>

<div id="src" style="left:242.5px"><i class="f" style="width:20px">数</i><i class="f" style="width:20px">据</i><i class="f" style="width:20px">来</i><i class="f" style="width:20px">源</i><i class="f" style="width:20px">：</i><i class="h" style="width:10.0px;display:inline-flex;justify-content:center"><i style="transform:scaleX(0.8)">W</i></i><i class="h" style="width:10.0px">i</i><i class="h" style="width:10.0px">n</i><i class="h" style="width:10.0px">d</i><i class="h" style="width:10.0px">&nbsp;</i><i class="f" style="width:20px">大</i><i class="f" style="width:20px">同</i><i class="f" style="width:20px">证</i><i class="f" style="width:20px">券</i><i class="f" style="width:20px">研</i><i class="f" style="width:20px">究</i><i class="f" style="width:20px">中</i><i class="f" style="width:20px">心</i></div>
</body></html>
